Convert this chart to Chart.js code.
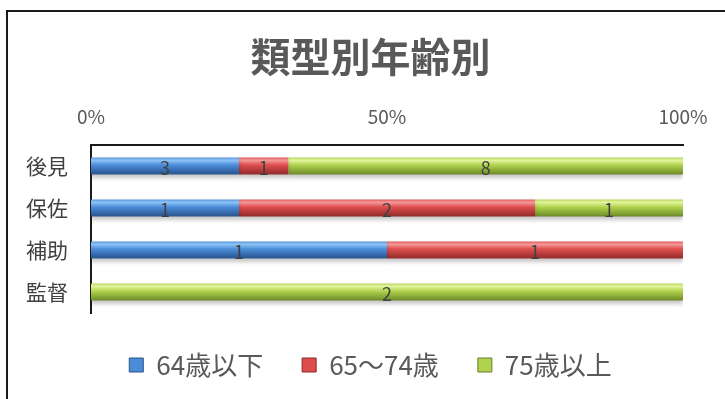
<!DOCTYPE html>
<html lang="ja">
<head>
<meta charset="utf-8">
<title>類型別年齢別</title>
<script src="https://cdn.jsdelivr.net/npm/chart.js@4/dist/chart.umd.min.js"></script>
<style>
    html, body { margin: 0; padding: 0; background: #fff; }
    #frame {
        position: absolute; left: 6px; top: 10px; width: 760px; height: 420px;
        border-left: 2px solid #1a1a1a; border-top: 2px solid #1a1a1a;
    }
    #wrap { position: absolute; left: 0; top: 0; width: 725px; height: 399px; }
</style>
</head>
<body>
<div id="frame"></div>
<div id="wrap"><canvas id="ageChart"></canvas></div>
<script>
// --- Dados ---
const categories = ['後見', '保佐', '補助', '監督'];
const seriesNames = ['64歳以下', '65～74歳', '75歳以上'];
const under64 = [3, 1, 1, 0];
const age65to74 = [1, 2, 1, 0];
const over75 = [8, 1, 0, 2];
const xTicks = [0, 50, 100];

const FONT = "'Noto Sans CJK JP', 'Noto Sans', sans-serif";

// cores: topo claro, meio, base escura
const palette = [
    { light: '#8ec4f6', mid: '#4b8cd8', dark: '#2f5f9e', edge: '#2a5286' },
    { light: '#f59a9a', mid: '#de4d4d', dark: '#a33232', edge: '#8a2a2a' },
    { light: '#e2f59e', mid: '#b0d24e', dark: '#7c9c30', edge: '#667f28' }
];

const counts = [under64, age65to74, over75];
const totals = categories.map((_, i) => counts.reduce((s, arr) => s + arr[i], 0));
const toShare = arr => arr.map((v, i) => totals[i] > 0 ? v / totals[i] * 100 : 0);

function barGradient(colors) {
    return function (ctx) {
        const chart = ctx.chart;
        const yScale = chart.scales.y;
        if (ctx.type !== 'data' || !chart.chartArea || !yScale) return colors.mid;
        const c = yScale.getPixelForValue(ctx.dataIndex);
        const half = 9;
        const g = chart.ctx.createLinearGradient(0, c - half, 0, c + half);
        g.addColorStop(0, colors.mid);
        g.addColorStop(0.18, colors.light);
        g.addColorStop(0.45, colors.mid);
        g.addColorStop(0.85, colors.dark);
        g.addColorStop(1, colors.edge);
        return g;
    };
}

// sombra leve por baixo das barras
const barShadow = {
    id: 'barShadow',
    beforeDatasetsDraw(chart) {
        const ctx = chart.ctx;
        ctx.save();
        ctx.shadowColor = 'rgba(0, 0, 0, 0.22)';
        ctx.shadowBlur = 4;
        ctx.shadowOffsetY = 3;
    },
    afterDatasetsDraw(chart) {
        chart.ctx.restore();
    }
};

// rótulos com a contagem no meio de cada segmento
const countLabels = {
    id: 'countLabels',
    afterDatasetsDraw(chart) {
        const ctx = chart.ctx;
        ctx.save();
        ctx.font = `18px ${FONT}`;
        ctx.fillStyle = '#404040';
        ctx.textAlign = 'center';
        ctx.textBaseline = 'middle';
        chart.data.datasets.forEach((ds, di) => {
            const meta = chart.getDatasetMeta(di);
            meta.data.forEach((bar, i) => {
                const n = counts[di][i];
                if (!n) return;
                const p = bar.getCenterPoint();
                ctx.fillText(String(n), p.x, p.y + 2);
            });
        });
        ctx.restore();
    }
};

new Chart(document.getElementById('ageChart'), {
    type: 'bar',
    data: {
        labels: categories,
        datasets: seriesNames.map((name, k) => ({
            label: name,
            data: toShare(counts[k]),
            backgroundColor: barGradient(palette[k]),
            borderWidth: 0,
            barPercentage: 0.41,
            categoryPercentage: 1
        }))
    },
    options: {
        indexAxis: 'y',
        responsive: true,
        maintainAspectRatio: false,
        animation: false,
        layout: { padding: { left: 16, right: 0, top: 0, bottom: 11 } },
        scales: {
            x: {
                position: 'top',
                stacked: true,
                min: 0,
                max: 100,
                afterBuildTicks: axis => { axis.ticks = xTicks.map(v => ({ value: v })); },
                afterFit: axis => { axis.height = 64; },
                grid: { display: false, drawTicks: false },
                border: { display: true, color: '#1a1a1a', width: 2 },
                ticks: {
                    padding: 17,
                    color: '#595959',
                    font: { family: FONT, size: 19 },
                    callback: v => v + '%'
                }
            },
            y: {
                stacked: true,
                afterFit: axis => { axis.width = 75; },
                grid: { display: false, drawTicks: false },
                border: { display: true, color: '#1a1a1a', width: 2 },
                ticks: {
                    padding: 23,
                    color: '#404040',
                    font: { family: FONT, size: 21 }
                }
            },
            // espaço vazio à direita da área do gráfico
            yRight: {
                type: 'category',
                position: 'right',
                afterFit: axis => { axis.width = 42; },
                grid: { display: false, drawTicks: false },
                border: { display: false },
                ticks: { display: false }
            }
        },
        plugins: {
            title: {
                display: true,
                text: '類型別年齢別',
                color: '#595959',
                font: { family: FONT, size: 40, weight: 'bold' },
                padding: { top: 33, bottom: 0 }
            },
            legend: {
                position: 'bottom',
                labels: {
                    boxWidth: 14,
                    boxHeight: 14,
                    padding: 39,
                    color: '#595959',
                    font: { family: FONT, size: 26 },
                    generateLabels: chart => chart.data.datasets.map((ds, k) => ({
                        text: ds.label,
                        fillStyle: palette[k].mid,
                        strokeStyle: palette[k].edge,
                        lineWidth: 1,
                        fontColor: '#595959',
                        hidden: false,
                        datasetIndex: k
                    }))
                }
            },
            tooltip: { enabled: false }
        }
    },
    plugins: [barShadow, countLabels]
});
</script>
</body>
</html>
